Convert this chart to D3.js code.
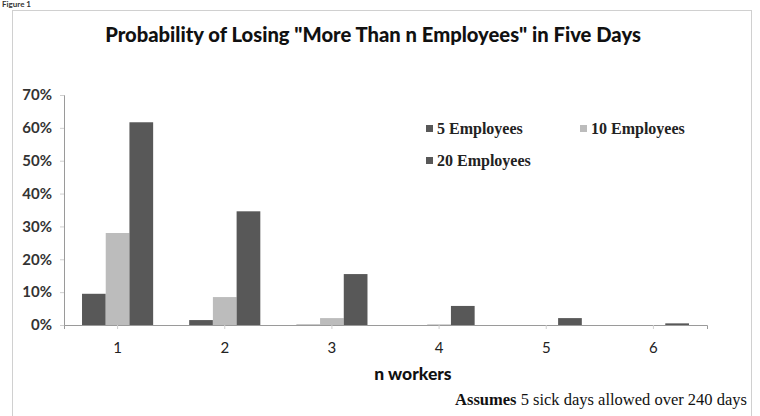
<!DOCTYPE html>
<html><head><meta charset="utf-8">
<script src="https://cdn.jsdelivr.net/npm/d3@7"></script>
<style>body{margin:0;background:#fff;}svg{display:block;}</style>
</head><body>
<svg id="c" width="760" height="416"></svg>
<script>
const categories = ["1","2","3","4","5","6"];
const seriesNames = ["5 Employees","10 Employees","20 Employees"];
const emp5  = [0.095, 0.015, 0.001, 0.0,   0.0,   0.0];
const emp10 = [0.28,  0.085, 0.021, 0.002, 0.0,   0.0];
const emp20 = [0.617, 0.346, 0.155, 0.058, 0.021, 0.005];
const yTicks = [0,0.1,0.2,0.3,0.4,0.5,0.6,0.7];
const colors = ["#585858","#bcbcbc","#585858"];

const svg = d3.select("#c");
svg.append("rect").attr("x",12.5).attr("y",10.5).attr("width",739).attr("height",420)
  .attr("fill","#fff").attr("stroke","#d0d0d0");
svg.append("text").attr("x",2).attr("y",7).attr("font-family","Lato, sans-serif")
  .attr("font-weight","bold").attr("font-size",8).attr("fill","#333").text("Figure 1");

const m = {l:64, r:707, t:95, b:325};
const x = d3.scaleBand().domain(categories).range([m.l,m.r]).paddingInner(0).paddingOuter(0);
const xs = d3.scaleBand().domain(seriesNames).range([0,x.bandwidth()]).paddingInner(0).paddingOuter(0.76);
const y = d3.scaleLinear().domain([0,0.7]).range([m.b,m.t]);

svg.append("text").attr("x",373).attr("y",42).attr("text-anchor","middle")
  .attr("font-family","Lato, sans-serif").attr("font-weight","900").attr("font-size",20.2)
  .attr("fill","#111").text('Probability of Losing "More Than n Employees" in Five Days');

const ya = svg.append("g").attr("transform",`translate(${m.l},0)`)
  .call(d3.axisLeft(y).tickValues(yTicks).tickFormat(d3.format(".0%")).tickSize(4).tickPadding(8));
ya.select(".domain").attr("stroke","#9a9a9a");
ya.selectAll(".tick line").attr("stroke","#cfcfcf");
ya.selectAll("text").attr("font-family","Lato, sans-serif").attr("font-size",15).attr("font-weight","bold").attr("fill","#333");

const data = [emp5, emp10, emp20];
const g = svg.append("g");
seriesNames.forEach((s,i)=>{
  g.selectAll(null).data(categories).enter().append("rect")
    .attr("x",(c)=>x(c)+xs(s))
    .attr("width",xs.bandwidth())
    .attr("y",(c,j)=>y(data[i][j]))
    .attr("height",(c,j)=>m.b - y(data[i][j]))
    .attr("fill",colors[i]);
});

const xa = svg.append("g").attr("transform",`translate(0,${m.b})`)
  .call(d3.axisBottom(x).tickSize(4).tickPadding(13));
xa.select(".domain").attr("stroke","#9a9a9a");
xa.selectAll(".tick line").attr("stroke","#cfcfcf");
xa.selectAll("text").attr("font-family","Lato, sans-serif").attr("font-size",15).attr("fill","#222");

svg.append("text").attr("x",413).attr("y",380).attr("text-anchor","middle")
  .attr("font-family","Lato, sans-serif").attr("font-weight","900").attr("font-size",17.5)
  .attr("fill","#111").text("n workers");

const note = svg.append("text").attr("x",747).attr("y",405).attr("text-anchor","end")
  .attr("font-family","'Liberation Serif', serif").attr("font-size",16.5).attr("fill","#111");
note.append("tspan").attr("font-weight","bold").text("Assumes");
note.append("tspan").text(" 5 sick days allowed over 240 days");

const legPos = [[429,129],[583,129],[429,161]];
seriesNames.forEach((s,i)=>{
  const [lx,ly] = legPos[i];
  svg.append("rect").attr("x",lx-3).attr("y",ly-4).attr("width",7).attr("height",7).attr("fill",colors[i]);
  svg.append("text").attr("x",lx+8).attr("y",ly+5).attr("font-family","'Liberation Serif', serif")
    .attr("font-size",16).attr("font-weight","bold").attr("fill","#222").text(s);
});
</script>
</body></html>
